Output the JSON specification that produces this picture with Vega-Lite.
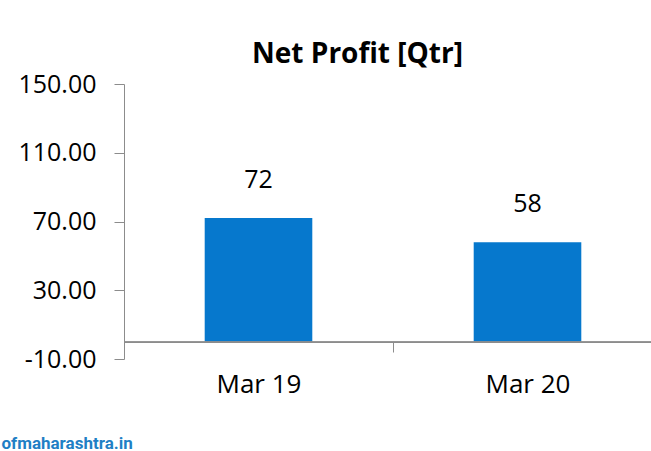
{
  "$schema": "https://vega.github.io/schema/vega-lite/v6.json",
  "autosize": "none",
  "width": 527,
  "height": 275,
  "padding": {"left": 124, "top": 84, "right": 0, "bottom": 92},
  "background": "white",
  "config": {"view": {"stroke": null}},
  "title": {
    "text": "Net Profit [Qtr]",
    "font": "Open Sans",
    "fontSize": 28,
    "fontWeight": "bold",
    "color": "#000000",
    "anchor": "middle",
    "frame": "group",
    "dx": -30,
    "offset": 3
  },
  "data": {
    "values": [
      {"quarter": "Mar 19", "profit": 72},
      {"quarter": "Mar 20", "profit": 58}
    ]
  },
  "encoding": {
    "x": {
      "field": "quarter",
      "type": "nominal",
      "sort": null,
      "scale": {"range": [0, 538], "paddingInner": 0.6, "paddingOuter": 0.3},
      "axis": {
        "title": "ofmaharashtra.in",
        "titleFont": "Roboto",
        "titleFontSize": 17,
        "titleFontWeight": "bold",
        "titleColor": "#1f7fc5",
        "titleAlign": "left",
        "titleAnchor": "start",
        "titleBaseline": "alphabetic",
        "titleX": -123,
        "titleY": 106,
        "offset": -17,
        "labelAngle": 0,
        "labelFont": "Open Sans",
        "labelFontSize": 26,
        "labelColor": "#000000",
        "labelPadding": 19,
        "tickOffset": -134.5,
        "labelOffset": 134.5,
        "tickSize": 10,
        "tickColor": "#8c8c8c",
        "domainColor": "#8c8c8c",
        "tickWidth": 1,
        "domainWidth": 1
      }
    }
  },
  "layer": [
    {
      "mark": {"type": "bar", "color": "#0678cd"},
      "encoding": {
        "y": {
          "field": "profit",
          "type": "quantitative",
          "scale": {"domain": [-10, 150], "nice": false, "zero": false},
          "axis": {
            "title": null,
            "values": [-10, 30, 70, 110, 150],
            "labelExpr": "replace(format(datum.value, '.2f'), '\u2212', '-')",
            "grid": false,
            "labelFont": "Open Sans",
            "labelFontSize": 25,
            "labelColor": "#000000",
            "labelPadding": 18,
            "tickSize": 10,
            "tickColor": "#8c8c8c",
            "domainColor": "#8c8c8c"
          }
        },
        "y2": {"datum": 0}
      }
    },
    {
      "mark": {"type": "rule", "color": "#8c8c8c", "strokeWidth": 1},
      "encoding": {
        "x": null,
        "y": {"datum": 0, "type": "quantitative"}
      }
    },
    {
      "mark": {"type": "text", "font": "Open Sans", "fontSize": 25, "color": "#000000", "baseline": "middle", "dy": -38},
      "encoding": {
        "y": {"field": "profit", "type": "quantitative"},
        "text": {"field": "profit", "type": "quantitative"}
      }
    }
  ]
}
